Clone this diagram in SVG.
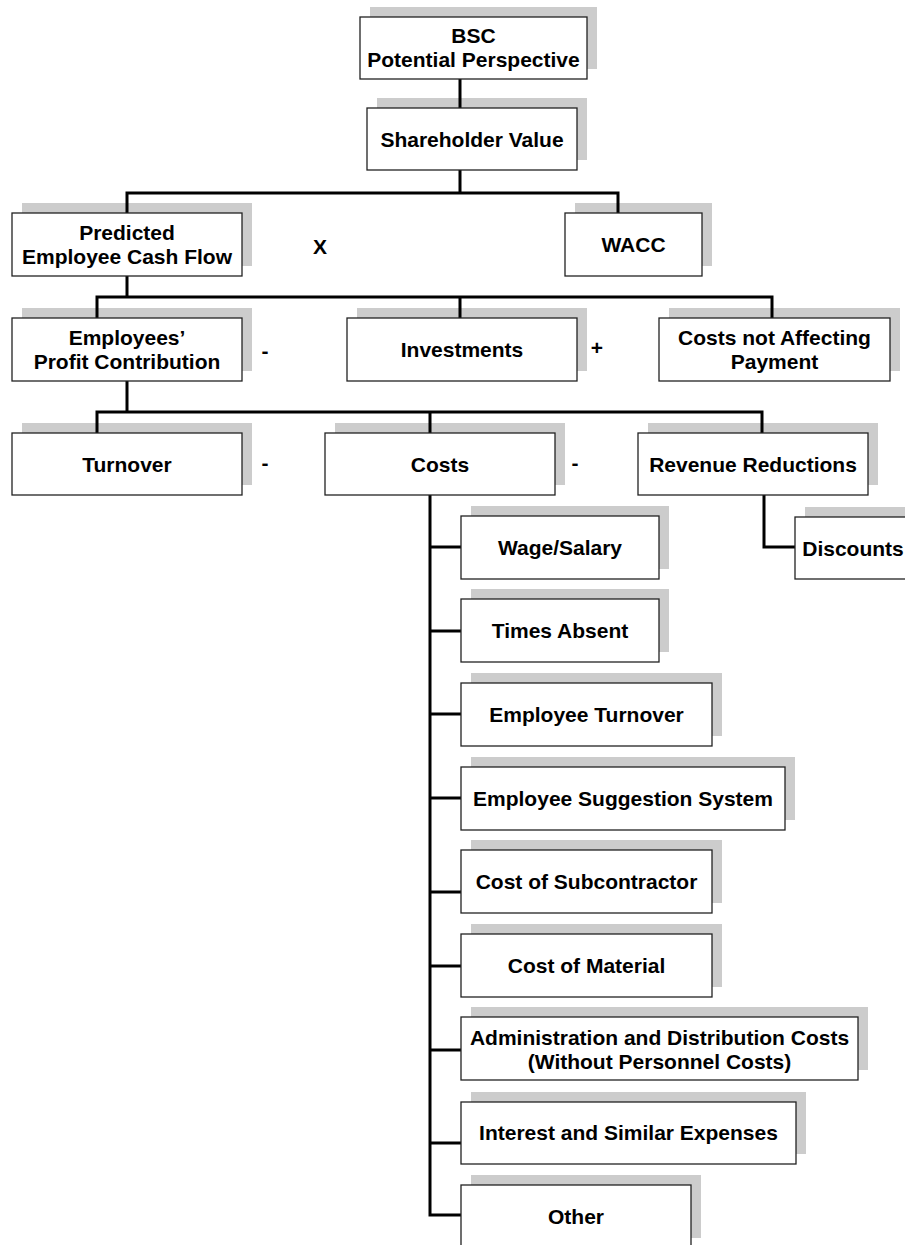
<svg xmlns="http://www.w3.org/2000/svg" width="905" height="1245" viewBox="0 0 905 1245">
<style>
.sh{fill:#000;fill-opacity:0.2}
.bx{fill:#fff;stroke:#222;stroke-width:1.3}
.t{font-family:"Liberation Sans",Arial,sans-serif;font-weight:bold;font-size:21px;fill:#000;text-anchor:middle}
.c{fill:none;stroke:#000;stroke-width:3;stroke-linecap:square;stroke-linejoin:miter}
</style>
<rect width="905" height="1245" fill="#fff"/>
<g id="connectors">
<path class="c" d="M460 79V108"/>
<path class="c" d="M460 170V193M127 213V193H618V213"/>
<path class="c" d="M127 276V297M97 318V297H772V318M460 297V318"/>
<path class="c" d="M127 381V412M97 433V412H762V433M430 412V433"/>
<path class="c" d="M430 495V1215H461M430 547H461M430 631H461M430 714H461M430 798H461M430 892H461M430 966H461M430 1050H461M430 1143H461"/>
<path class="c" d="M764 495V547H795"/>
</g>
<g id="bsc"><rect class="sh" x="370" y="7" width="227" height="62"/><rect class="bx" x="360" y="17" width="227" height="62"/><text class="t" x="473.5" y="43">BSC</text><text class="t" x="473.5" y="67">Potential Perspective</text></g>
<g id="shareholder-value"><rect class="sh" x="377" y="98" width="210" height="62"/><rect class="bx" x="367" y="108" width="210" height="62"/><text class="t" x="472" y="146.5">Shareholder Value</text></g>
<g id="predicted"><rect class="sh" x="22" y="203" width="230" height="63"/><rect class="bx" x="12" y="213" width="230" height="63"/><text class="t" x="127" y="240">Predicted</text><text class="t" x="127" y="264">Employee Cash Flow</text></g>
<g id="wacc"><rect class="sh" x="575" y="203" width="137" height="63"/><rect class="bx" x="565" y="213" width="137" height="63"/><text class="t" x="633.5" y="252">WACC</text></g>
<text class="t" x="320" y="254">X</text>
<g id="employees-profit"><rect class="sh" x="22" y="308" width="230" height="63"/><rect class="bx" x="12" y="318" width="230" height="63"/><text class="t" x="127" y="345">Employees’</text><text class="t" x="127" y="369">Profit Contribution</text></g>
<g id="investments"><rect class="sh" x="357" y="308" width="230" height="63"/><rect class="bx" x="347" y="318" width="230" height="63"/><text class="t" x="462" y="357">Investments</text></g>
<g id="costs-not-affecting"><rect class="sh" x="669" y="308" width="231" height="63"/><rect class="bx" x="659" y="318" width="231" height="63"/><text class="t" x="774.5" y="345">Costs not Affecting</text><text class="t" x="774.5" y="369">Payment</text></g>
<text class="t" x="265" y="358">-</text>
<text class="t" x="597" y="355">+</text>
<g id="turnover"><rect class="sh" x="22" y="423" width="230" height="62"/><rect class="bx" x="12" y="433" width="230" height="62"/><text class="t" x="127" y="471.5">Turnover</text></g>
<g id="costs"><rect class="sh" x="335" y="423" width="230" height="62"/><rect class="bx" x="325" y="433" width="230" height="62"/><text class="t" x="440" y="471.5">Costs</text></g>
<g id="revenue-reductions"><rect class="sh" x="648" y="423" width="230" height="62"/><rect class="bx" x="638" y="433" width="230" height="62"/><text class="t" x="753" y="471.5">Revenue Reductions</text></g>
<text class="t" x="265" y="470">-</text>
<text class="t" x="575" y="470">-</text>
<g id="discounts"><rect class="sh" x="805" y="507" width="230" height="62"/><rect class="bx" x="795" y="517" width="230" height="62"/><text class="t" x="853" y="555.5">Discounts</text></g>
<g id="wage-salary"><rect class="sh" x="471" y="506" width="198" height="63"/><rect class="bx" x="461" y="516" width="198" height="63"/><text class="t" x="560" y="555">Wage/Salary</text></g>
<g id="times-absent"><rect class="sh" x="471" y="589" width="198" height="63"/><rect class="bx" x="461" y="599" width="198" height="63"/><text class="t" x="560" y="638">Times Absent</text></g>
<g id="employee-turnover"><rect class="sh" x="471" y="673" width="251" height="63"/><rect class="bx" x="461" y="683" width="251" height="63"/><text class="t" x="586.5" y="722">Employee Turnover</text></g>
<g id="employee-suggestion"><rect class="sh" x="471" y="757" width="324" height="63"/><rect class="bx" x="461" y="767" width="324" height="63"/><text class="t" x="623" y="806">Employee Suggestion System</text></g>
<g id="subcontractor"><rect class="sh" x="471" y="840" width="251" height="63"/><rect class="bx" x="461" y="850" width="251" height="63"/><text class="t" x="586.5" y="889">Cost of Subcontractor</text></g>
<g id="material"><rect class="sh" x="471" y="924" width="251" height="63"/><rect class="bx" x="461" y="934" width="251" height="63"/><text class="t" x="586.5" y="973">Cost of Material</text></g>
<g id="administration"><rect class="sh" x="471" y="1007" width="397" height="63"/><rect class="bx" x="461" y="1017" width="397" height="63"/><text class="t" x="659.5" y="1045">Administration and Distribution Costs</text><text class="t" x="659.5" y="1069">(Without Personnel Costs)</text></g>
<g id="interest"><rect class="sh" x="471" y="1092" width="335" height="62"/><rect class="bx" x="461" y="1102" width="335" height="62"/><text class="t" x="628.5" y="1140">Interest and Similar Expenses</text></g>
<g id="other"><rect class="sh" x="471" y="1175" width="230" height="63"/><rect class="bx" x="461" y="1185" width="230" height="63"/><text class="t" x="576" y="1224">Other</text></g>
</svg>
